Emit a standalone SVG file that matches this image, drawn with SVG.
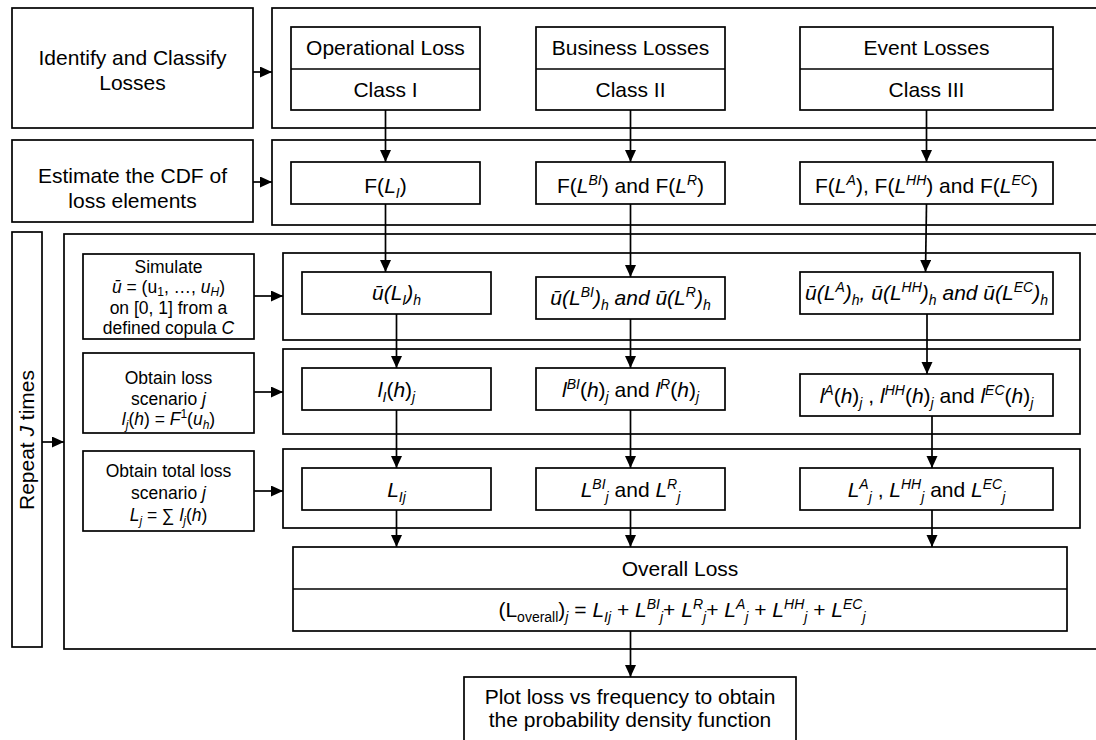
<svg xmlns="http://www.w3.org/2000/svg" width="1096" height="740" viewBox="0 0 1096 740">
  <defs>
    <marker id="arr" markerUnits="userSpaceOnUse" markerWidth="12" markerHeight="12" refX="12" refY="5.5" orient="auto">
      <path d="M0,0 L12,5.5 L0,11 z" fill="#000"/>
    </marker>
    <style>
      .box { fill: #fff; stroke: #000; stroke-width: 1.7; }
      .frame { fill: none; stroke: #000; stroke-width: 1.7; }
      .t { font-family: "Liberation Sans", Arial, sans-serif; font-size: 21px; fill: #000; text-anchor: middle; }
      .sm { font-size: 17.5px; }
      .i { font-style: italic; }
      .x { font-size: 14px; }
      .sm .x { font-size: 12px; }
      .c { fill: none; stroke: #000; stroke-width: 1.7; marker-end: url(#arr); }
    </style>
  </defs>
  <rect width="1096" height="740" fill="#fff"/>

  <!-- stage frames -->
  <g id="frame-classify"><rect class="frame" x="272" y="8" width="830" height="120"/></g>
  <g id="frame-cdf"><rect class="frame" x="272" y="140" width="830" height="85"/></g>
  <g id="frame-repeat"><rect class="frame" x="64" y="234" width="1040" height="415"/></g>
  <g id="frame-simulate"><rect class="frame" x="283" y="253" width="797" height="87"/></g>
  <g id="frame-scenario"><rect class="frame" x="283" y="349" width="797" height="85"/></g>
  <g id="frame-total"><rect class="frame" x="283" y="449" width="797" height="79"/></g>

  <!-- left column -->
  <g id="identify">
    <rect class="box" x="12" y="8" width="241" height="120"/>
    <text class="t" x="132.5" y="65">Identify and Classify</text>
    <text class="t" x="132.5" y="90">Losses</text>
  </g>
  <g id="estimate">
    <rect class="box" x="12" y="140" width="241" height="82"/>
    <text class="t" x="132.5" y="183">Estimate the CDF of</text>
    <text class="t" x="132.5" y="208">loss elements</text>
  </g>
  <g id="repeat">
    <rect class="box" x="12" y="232" width="30" height="415"/>
    <text class="t" transform="translate(34,440) rotate(-90)">Repeat <tspan class="i">J</tspan> times</text>
  </g>
  <g id="simulate">
    <rect class="box" x="83" y="254" width="171" height="85"/>
    <text class="t sm" x="168.5" y="273">Simulate</text>
    <text class="t sm" x="168.5" y="293"><tspan class="i">ū</tspan> = (u<tspan class="x" dy="3">1</tspan><tspan dy="-3">, …, </tspan><tspan class="i">u</tspan><tspan class="x i" dy="3">H</tspan><tspan dy="-3">)</tspan></text>
    <text class="t sm" x="168.5" y="314">on [0, 1] from a</text>
    <text class="t sm" x="168.5" y="334">defined copula <tspan class="i">C</tspan></text>
  </g>
  <g id="obtain-loss">
    <rect class="box" x="83" y="353" width="171" height="80"/>
    <text class="t sm" x="168.5" y="384">Obtain loss</text>
    <text class="t sm" x="168.5" y="405">scenario <tspan class="i">j</tspan></text>
    <text class="t sm" x="168.5" y="425"><tspan class="i">l</tspan><tspan class="x i" dy="4">j</tspan><tspan dy="-4">(</tspan><tspan class="i">h</tspan>) = <tspan class="i">F</tspan><tspan class="x" dy="-7">1</tspan><tspan dy="7">(</tspan><tspan class="i">u</tspan><tspan class="x i" dy="4">h</tspan><tspan dy="-4">)</tspan></text>
  </g>
  <g id="obtain-total">
    <rect class="box" x="83" y="451" width="171" height="80"/>
    <text class="t sm" x="168.5" y="477">Obtain total loss</text>
    <text class="t sm" x="168.5" y="499">scenario <tspan class="i">j</tspan></text>
    <text class="t sm" x="168.5" y="521"><tspan class="i">L</tspan><tspan class="x i" dy="4">j</tspan><tspan dy="-4"> = ∑ </tspan><tspan class="i">l</tspan><tspan class="x i" dy="4">j</tspan><tspan dy="-4">(</tspan><tspan class="i">h</tspan>)</text>
  </g>

  <!-- loss classes -->
  <g id="class-1">
    <rect class="box" x="291" y="27" width="189" height="83"/>
    <line class="frame" x1="291" y1="69" x2="480" y2="69"/>
    <text class="t" x="385.5" y="55">Operational Loss</text>
    <text class="t" x="385.5" y="97">Class I</text>
  </g>
  <g id="class-2">
    <rect class="box" x="536" y="27" width="189" height="83"/>
    <line class="frame" x1="536" y1="69" x2="725" y2="69"/>
    <text class="t" x="630.5" y="55">Business Losses</text>
    <text class="t" x="630.5" y="97">Class II</text>
  </g>
  <g id="class-3">
    <rect class="box" x="800" y="27" width="253" height="83"/>
    <line class="frame" x1="800" y1="69" x2="1053" y2="69"/>
    <text class="t" x="926.5" y="55">Event Losses</text>
    <text class="t" x="926.5" y="97">Class III</text>
  </g>

  <!-- distribution functions -->
  <g id="cdf-1">
    <rect class="box" x="291" y="162" width="189" height="42"/>
    <text class="t" x="385.5" y="193">F(<tspan class="i">L</tspan><tspan class="x i" dy="5">I</tspan><tspan dy="-5">)</tspan></text>
  </g>
  <g id="cdf-2">
    <rect class="box" x="536" y="162" width="189" height="42"/>
    <text class="t" x="630.5" y="193">F(<tspan class="i">L</tspan><tspan class="x i" dy="-8">BI</tspan><tspan dy="8">) and F(</tspan><tspan class="i">L</tspan><tspan class="x i" dy="-8">R</tspan><tspan dy="8">)</tspan></text>
  </g>
  <g id="cdf-3">
    <rect class="box" x="800" y="162" width="253" height="42"/>
    <text class="t" x="926.5" y="193">F(<tspan class="i">L</tspan><tspan class="x i" dy="-8">A</tspan><tspan dy="8">), F(</tspan><tspan class="i">L</tspan><tspan class="x i" dy="-8">HH</tspan><tspan dy="8">) and F(</tspan><tspan class="i">L</tspan><tspan class="x i" dy="-8">EC</tspan><tspan dy="8">)</tspan></text>
  </g>

  <!-- simulated uniforms -->
  <g id="u-1">
    <rect class="box" x="302" y="272" width="189" height="42"/>
    <text class="t i" x="396.5" y="300">ū(L<tspan class="x" dy="5">I</tspan><tspan dy="-5">)</tspan><tspan class="x" dy="5">h</tspan></text>
  </g>
  <g id="u-2">
    <rect class="box" x="536" y="277" width="189" height="42"/>
    <text class="t i" x="630.5" y="305">ū(L<tspan class="x" dy="-8">BI</tspan><tspan dy="8">)</tspan><tspan class="x" dy="5">h</tspan><tspan dy="-5"> and ū(L</tspan><tspan class="x" dy="-8">R</tspan><tspan dy="8">)</tspan><tspan class="x" dy="5">h</tspan></text>
  </g>
  <g id="u-3">
    <rect class="box" x="800" y="272" width="253" height="42"/>
    <text class="t i" x="926.5" y="300">ū(L<tspan class="x" dy="-8">A</tspan><tspan dy="8">)</tspan><tspan class="x" dy="5">h</tspan><tspan dy="-5">, ū(L</tspan><tspan class="x" dy="-8">HH</tspan><tspan dy="8">)</tspan><tspan class="x" dy="5">h</tspan><tspan dy="-5"> and ū(L</tspan><tspan class="x" dy="-8">EC</tspan><tspan dy="8">)</tspan><tspan class="x" dy="5">h</tspan></text>
  </g>

  <!-- loss scenarios -->
  <g id="l-1">
    <rect class="box" x="302" y="368" width="189" height="42"/>
    <text class="t" x="396.5" y="397"><tspan class="i">l</tspan><tspan class="x i" dy="5">I</tspan><tspan dy="-5">(</tspan><tspan class="i">h</tspan>)<tspan class="x i" dy="5">j</tspan></text>
  </g>
  <g id="l-2">
    <rect class="box" x="536" y="368" width="189" height="42"/>
    <text class="t" x="630.5" y="397"><tspan class="i">l</tspan><tspan class="x i" dy="-8">BI</tspan><tspan dy="8">(</tspan><tspan class="i">h</tspan>)<tspan class="x i" dy="5">j</tspan><tspan dy="-5"> and </tspan><tspan class="i">l</tspan><tspan class="x i" dy="-8">R</tspan><tspan dy="8">(</tspan><tspan class="i">h</tspan>)<tspan class="x i" dy="5">j</tspan></text>
  </g>
  <g id="l-3">
    <rect class="box" x="800" y="374" width="253" height="42"/>
    <text class="t" x="926.5" y="403"><tspan class="i">l</tspan><tspan class="x i" dy="-8">A</tspan><tspan dy="8">(</tspan><tspan class="i">h</tspan>)<tspan class="x i" dy="5">j</tspan><tspan dy="-5"> , </tspan><tspan class="i">l</tspan><tspan class="x i" dy="-8">HH</tspan><tspan dy="8">(</tspan><tspan class="i">h</tspan>)<tspan class="x i" dy="5">j</tspan><tspan dy="-5"> and </tspan><tspan class="i">l</tspan><tspan class="x i" dy="-8">EC</tspan><tspan dy="8">(</tspan><tspan class="i">h</tspan>)<tspan class="x i" dy="5">j</tspan></text>
  </g>

  <!-- scenario totals -->
  <g id="total-1">
    <rect class="box" x="302" y="468" width="189" height="42"/>
    <text class="t i" x="396.5" y="497">L<tspan class="x" dy="5">Ij</tspan></text>
  </g>
  <g id="total-2">
    <rect class="box" x="536" y="468" width="189" height="42"/>
    <text class="t" x="630.5" y="497"><tspan class="i">L</tspan><tspan class="x i" dy="-8">BI</tspan><tspan class="x i" dy="13">j</tspan><tspan dy="-5"> and </tspan><tspan class="i">L</tspan><tspan class="x i" dy="-8">R</tspan><tspan class="x i" dy="13">j</tspan></text>
  </g>
  <g id="total-3">
    <rect class="box" x="800" y="468" width="253" height="42"/>
    <text class="t" x="926.5" y="497"><tspan class="i">L</tspan><tspan class="x i" dy="-8">A</tspan><tspan class="x i" dy="13">j</tspan><tspan dy="-5"> , </tspan><tspan class="i">L</tspan><tspan class="x i" dy="-8">HH</tspan><tspan class="x i" dy="13">j</tspan><tspan dy="-5"> and </tspan><tspan class="i">L</tspan><tspan class="x i" dy="-8">EC</tspan><tspan class="x i" dy="13">j</tspan></text>
  </g>

  <!-- overall loss -->
  <g id="overall">
    <rect class="box" x="293" y="547" width="774" height="84"/>
    <line class="frame" x1="293" y1="589" x2="1067" y2="589"/>
    <text class="t" x="680" y="576">Overall Loss</text>
    <text class="t" x="682" y="617">(L<tspan class="x" dy="5">overall</tspan><tspan dy="-5">)</tspan><tspan class="x i" dy="5">j</tspan><tspan dy="-5"> = </tspan><tspan class="i">L</tspan><tspan class="x i" dy="5">Ij</tspan><tspan dy="-5"> + </tspan><tspan class="i">L</tspan><tspan class="x i" dy="-8">BI</tspan><tspan class="x i" dy="13">j</tspan><tspan dy="-5">+ </tspan><tspan class="i">L</tspan><tspan class="x i" dy="-8">R</tspan><tspan class="x i" dy="13">j</tspan><tspan dy="-5">+ </tspan><tspan class="i">L</tspan><tspan class="x i" dy="-8">A</tspan><tspan class="x i" dy="13">j</tspan><tspan dy="-5"> + </tspan><tspan class="i">L</tspan><tspan class="x i" dy="-8">HH</tspan><tspan class="x i" dy="13">j</tspan><tspan dy="-5"> + </tspan><tspan class="i">L</tspan><tspan class="x i" dy="-8">EC</tspan><tspan class="x i" dy="13">j</tspan></text>
  </g>

  <!-- final output -->
  <g id="plot">
    <rect class="box" x="464" y="677" width="332" height="80"/>
    <text class="t" x="630" y="704">Plot loss vs frequency to obtain</text>
    <text class="t" x="630" y="727">the probability density function</text>
  </g>

  <!-- connectors -->
  <g id="connectors">
    <line class="c" x1="253" y1="72" x2="272" y2="72"/>
    <line class="c" x1="253" y1="182" x2="272" y2="182"/>
    <line class="c" x1="42" y1="442" x2="64" y2="442"/>
    <line class="c" x1="254" y1="296" x2="283" y2="296"/>
    <line class="c" x1="254" y1="392" x2="283" y2="392"/>
    <line class="c" x1="254" y1="491" x2="283" y2="491"/>

    <line class="c" x1="385.5" y1="110" x2="385.5" y2="162"/>
    <line class="c" x1="385.5" y1="204" x2="385.5" y2="272"/>
    <line class="c" x1="396.5" y1="314" x2="396.5" y2="368"/>
    <line class="c" x1="396.5" y1="410" x2="396.5" y2="468"/>
    <line class="c" x1="396.5" y1="510" x2="396.5" y2="547"/>

    <line class="c" x1="630.5" y1="110" x2="630.5" y2="162"/>
    <line class="c" x1="630.5" y1="204" x2="630.5" y2="277"/>
    <line class="c" x1="630.5" y1="319" x2="630.5" y2="368"/>
    <line class="c" x1="630.5" y1="410" x2="630.5" y2="468"/>
    <line class="c" x1="630.5" y1="510" x2="630.5" y2="547"/>

    <line class="c" x1="926.5" y1="110" x2="926.5" y2="162"/>
    <line class="c" x1="926.5" y1="204" x2="925.5" y2="272"/>
    <line class="c" x1="927" y1="314" x2="927" y2="374"/>
    <line class="c" x1="932" y1="416" x2="932" y2="468"/>
    <line class="c" x1="932" y1="510" x2="932" y2="547"/>

    <line class="c" x1="630.5" y1="631" x2="630.5" y2="677"/>
  </g>
</svg>
